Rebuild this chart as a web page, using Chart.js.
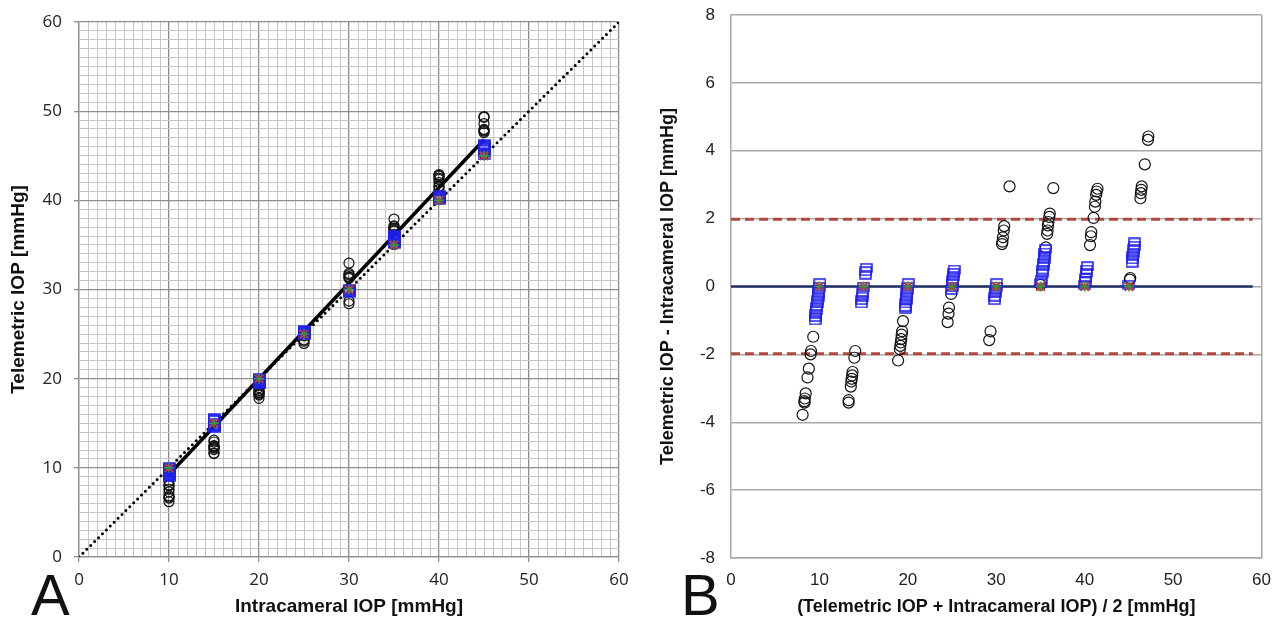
<!DOCTYPE html>
<html>
<head>
<meta charset="utf-8">
<script src="https://cdn.jsdelivr.net/npm/chart.js@4/dist/chart.umd.min.js"></script>
<style>
    body { margin: 0; background: #fff; width: 1283px; height: 622px; position: relative; overflow: hidden; }
    canvas { position: absolute; top: 0; }
    .letra { position: absolute; font-family: "Liberation Sans", Arial, sans-serif; font-size: 58px; line-height: 58px; color: #111; }
</style>
</head>
<body>
<canvas id="graficoA" width="640" height="622" style="left:0"></canvas>
<canvas id="graficoB" width="643" height="622" style="left:640px"></canvas>
<div class="letra" style="left:31px;top:566px">A</div>
<div class="letra" style="left:681px;top:566px">B</div>
<script>
// Niveis de pressao intracameral usados no teste
const niveis = [10, 15, 20, 25, 30, 35, 40, 45];

// Painel A: intracameral (x) x telemetrica (y)
const circulosA = [
    [10, 8.5], [10, 8.1], [10, 8.0], [10, 7.6], [10, 7.3], [10, 6.85], [10, 6.7], [10, 6.6], [10, 6.2],
    [15, 13.1], [15, 12.9], [15, 12.5], [15, 12.4], [15, 12.3], [15, 12.2], [15, 12.05], [15, 11.65], [15, 11.6],
    [20, 19.0], [20, 18.7], [20, 18.6], [20, 18.45], [20, 18.35], [20, 18.25], [20, 18.15], [20, 17.8],
    [25, 24.8], [25, 24.35], [25, 24.2], [25, 23.95],
    [30, 28.7], [30, 28.4], [30, 31.25], [30, 31.35], [30, 31.45], [30, 31.65], [30, 31.8], [30, 32.95],
    [35, 35.05], [35, 36.15], [35, 36.55], [35, 36.65], [35, 36.8], [35, 36.9], [35, 37.05], [35, 37.15], [35, 37.9],
    [40, 41.2], [40, 41.5], [40, 41.6], [40, 42.0], [40, 42.35], [40, 42.5], [40, 42.7], [40, 42.8], [40, 42.9],
    [45, 45.2], [45, 45.25], [45, 47.6], [45, 47.75], [45, 47.85], [45, 47.95], [45, 48.6], [45, 49.3], [45, 49.4]
];
const quadradosA = [
    [10, 10.1], [10, 10.0], [10, 9.9], [10, 9.8], [10, 9.7], [10, 9.6], [10, 9.5], [10, 9.4], [10, 9.3], [10, 9.2], [10, 9.1], [10, 9.0],
    [15, 15.55], [15, 15.45], [15, 15.35], [15, 15.0], [15, 14.8], [15, 14.7], [15, 14.6], [15, 14.5],
    [20, 20.1], [20, 20.0], [20, 19.9], [20, 19.8], [20, 19.7], [20, 19.6], [20, 19.5], [20, 19.4], [20, 19.35],
    [25, 25.5], [25, 25.4], [25, 25.3], [25, 25.2], [25, 25.1], [25, 25.0], [25, 24.9],
    [30, 30.1], [30, 30.0], [30, 29.9], [30, 29.8], [30, 29.7], [30, 29.6],
    [35, 35.1], [35, 35.2], [35, 35.4], [35, 35.5], [35, 35.6], [35, 35.7], [35, 35.8], [35, 35.9], [35, 36.0], [35, 36.1],
    [40, 40.05], [40, 40.15], [40, 40.25], [40, 40.4], [40, 40.5], [40, 40.6],
    [45, 45.05], [45, 45.7], [45, 45.8], [45, 45.9], [45, 46.0], [45, 46.1], [45, 46.2], [45, 46.3]
];
const regressaoA = [[10, 9.26], [45, 46.8]];
const identidadeA = [[0, 0], [60, 60]];

// Painel B: Bland-Altman (media x diferenca)
const circulosB = [
    [9.3, -1.48], [9.05, -1.9], [9.0, -2.0], [8.8, -2.42], [8.65, -2.68], [8.45, -3.15], [8.35, -3.3], [8.3, -3.38], [8.32, -3.42], [8.1, -3.78],
    [14.05, -1.9], [13.95, -2.1], [13.75, -2.52], [13.7, -2.62], [13.65, -2.72], [13.6, -2.8], [13.55, -2.95], [13.3, -3.35], [13.3, -3.42],
    [19.45, -1.02], [19.35, -1.32], [19.3, -1.42], [19.25, -1.55], [19.2, -1.65], [19.15, -1.75], [19.1, -1.85], [18.9, -2.18],
    [24.9, -0.22], [24.65, -0.62], [24.6, -0.8], [24.5, -1.05],
    [29.35, -1.32], [29.2, -1.58], [30.65, 1.25], [30.7, 1.32], [30.75, 1.45], [30.85, 1.65], [30.9, 1.78], [31.5, 2.95],
    [35.0, 0.05], [35.6, 1.15], [35.75, 1.55], [35.8, 1.65], [35.85, 1.8], [35.9, 1.9], [36.0, 2.05], [36.05, 2.15], [36.45, 2.9],
    [40.6, 1.22], [40.7, 1.48], [40.75, 1.6], [41.0, 2.02], [41.15, 2.35], [41.2, 2.5], [41.3, 2.7], [41.35, 2.8], [41.45, 2.88],
    [45.1, 0.2], [45.15, 0.25], [46.3, 2.6], [46.35, 2.75], [46.4, 2.85], [46.45, 2.95], [46.8, 3.6], [47.15, 4.32], [47.2, 4.42]
];
const quadradosB = [
    [10.05, 0.1], [10.0, 0.0], [9.95, -0.1], [9.9, -0.2], [9.85, -0.3], [9.8, -0.4], [9.75, -0.5], [9.7, -0.6], [9.65, -0.7], [9.6, -0.8], [9.55, -0.9], [9.5, -1.0],
    [15.3, 0.55], [15.25, 0.45], [15.2, 0.35], [15.0, 0.0], [14.9, -0.2], [14.85, -0.3], [14.8, -0.4], [14.75, -0.5],
    [20.05, 0.1], [20.0, 0.0], [19.95, -0.1], [19.9, -0.2], [19.85, -0.3], [19.8, -0.4], [19.75, -0.5], [19.7, -0.6], [19.7, -0.65],
    [25.25, 0.5], [25.2, 0.4], [25.15, 0.3], [25.1, 0.2], [25.05, 0.1], [25.0, 0.0], [24.95, -0.1],
    [30.05, 0.1], [30.0, 0.0], [29.95, -0.1], [29.9, -0.2], [29.85, -0.3], [29.8, -0.4],
    [35.05, 0.1], [35.1, 0.2], [35.2, 0.4], [35.25, 0.5], [35.3, 0.6], [35.35, 0.7], [35.4, 0.8], [35.45, 0.9], [35.5, 1.0], [35.55, 1.1],
    [40.0, 0.05], [40.05, 0.15], [40.1, 0.25], [40.2, 0.4], [40.25, 0.5], [40.3, 0.6],
    [45.0, 0.05], [45.35, 0.7], [45.4, 0.8], [45.45, 0.9], [45.5, 1.0], [45.55, 1.1], [45.6, 1.2], [45.65, 1.3]
];
const mediaB = [[0, 0], [59, 0]];
const limiteSupB = [[0, 1.98], [59, 1.98]];
const limiteInfB = [[0, -1.98], [59, -1.98]];

const fonteTitulo = "'Liberation Sans', Arial, sans-serif";

// quadradinho azul (mais largo que alto)
function criarQuadrado() {
    const c = document.createElement('canvas');
    c.width = 13; c.height = 10;
    const g = c.getContext('2d');
    g.strokeStyle = '#1f1ff0';
    g.lineWidth = 1.5;
    g.strokeRect(1, 1, 11, 8);
    return c;
}
const quadrado = criarQuadrado();

function marcadores(lista) {
    return [
        { data: lista, pointStyle: 'cross', pointRadius: 5, borderColor: '#2f9a3c', borderWidth: 1.5 },
        { data: lista, pointStyle: 'crossRot', pointRadius: 6, borderColor: '#c23b2c', borderWidth: 2 }
    ];
}

// ---------- Painel A ----------
const cinzaMenor = '#c6c6c6', cinzaMaior = '#8e8e8e';
const ehMaior = ctx => ctx.tick && ctx.tick.value % 10 === 0;

function eixoA(titulo, extra) {
    return Object.assign({
        type: 'linear', min: 0, max: 60,
        ticks: {
            stepSize: 1, autoSkip: false, maxRotation: 0,
            callback: v => v % 10 === 0 ? v : '',
            font: { family: "'Open Sans', sans-serif", size: 17 }, color: '#222'
        },
        grid: {
            color: ctx => ehMaior(ctx) ? cinzaMaior : cinzaMenor,
            lineWidth: ctx => ehMaior(ctx) ? 1.3 : 1,
            tickColor: ctx => ehMaior(ctx) ? cinzaMaior : 'rgba(0,0,0,0)',
            tickLength: 5
        },
        border: { color: cinzaMaior, width: 1.3 },
        title: { display: true, text: titulo, color: '#111', font: { family: fonteTitulo, size: 19, weight: 'bold' } }
    }, extra);
}

const escalaX_A = eixoA('Intracameral IOP [mmHg]', { afterFit: s => { s.height = 65; } });
escalaX_A.ticks.padding = 8;
const escalaY_A = eixoA('Telemetric IOP [mmHg]', { afterFit: s => { s.width = 79; s.paddingTop = 10; s.paddingBottom = 10; } });
escalaY_A.ticks.padding = 12;
escalaY_A.title.padding = { top: 7, bottom: 4 };

new Chart(document.getElementById('graficoA'), {
    type: 'scatter',
    data: {
        datasets: [
            ...marcadores(niveis.map(n => [n, n])),
            { data: quadradosA, pointStyle: quadrado, pointRadius: 5 },
            { data: circulosA, pointStyle: 'circle', pointRadius: 5, borderColor: '#111', borderWidth: 1.2, backgroundColor: 'rgba(0,0,0,0)' },
            { data: regressaoA, showLine: true, pointRadius: 0, borderColor: '#000', borderWidth: 3.5 },
            { data: identidadeA, showLine: true, pointRadius: 0, borderColor: '#000', borderWidth: 3, borderDash: [0, 5.5], borderCapStyle: 'round' }
        ]
    },
    options: {
        responsive: false, animation: false,
        layout: { padding: { top: 22, right: 21, left: 0, bottom: 0 } },
        plugins: { legend: { display: false }, tooltip: { enabled: false } },
        scales: { x: escalaX_A, y: escalaY_A }
    }
});

// ---------- Painel B ----------
const cinzaB = '#a8a8a8';
new Chart(document.getElementById('graficoB'), {
    type: 'scatter',
    data: {
        datasets: [
            ...marcadores(niveis.map(n => [n, 0])),
            { data: quadradosB, pointStyle: quadrado, pointRadius: 5 },
            { data: circulosB, pointStyle: 'circle', pointRadius: 5.5, borderColor: '#111', borderWidth: 1.2, backgroundColor: 'rgba(0,0,0,0)' },
            { data: mediaB, showLine: true, pointRadius: 0, borderColor: '#1f2d66', borderWidth: 2.5 },
            { data: limiteSupB, showLine: true, pointRadius: 0, borderColor: '#b04a40', borderWidth: 3, borderDash: [9, 5] },
            { data: limiteInfB, showLine: true, pointRadius: 0, borderColor: '#b04a40', borderWidth: 3, borderDash: [9, 5] }
        ]
    },
    options: {
        responsive: false, animation: false,
        layout: { padding: { top: 15, right: 13, left: 0, bottom: 0 } },
        plugins: { legend: { display: false }, tooltip: { enabled: false } },
        scales: {
            x: {
                type: 'linear', min: 0, max: 60,
                afterFit: s => { s.height = 64; },
                ticks: { stepSize: 10, maxRotation: 0, padding: 12, font: { family: fonteTitulo, size: 17 }, color: '#222' },
                grid: { drawTicks: false, color: ctx => ctx.tick && ctx.tick.value === 60 ? cinzaB : 'rgba(0,0,0,0)', lineWidth: 1.5 },
                border: { color: cinzaB, width: 1.5 },
                title: { display: true, text: '(Telemetric IOP + Intracameral IOP) / 2 [mmHg]', color: '#111', font: { family: fonteTitulo, size: 18, weight: 'bold' } }
            },
            y: {
                type: 'linear', min: -8, max: 8,
                afterFit: s => { s.width = 91; s.paddingTop = 10; s.paddingBottom = 10; },
                ticks: { stepSize: 2, padding: 16, font: { family: fonteTitulo, size: 17 }, color: '#222' },
                grid: { drawTicks: false, color: cinzaB, lineWidth: 1.5 },
                border: { color: cinzaB, width: 1.5 },
                title: { display: true, text: 'Telemetric IOP - Intracameral IOP [mmHg]', color: '#111', padding: { top: 17, bottom: 4 }, font: { family: fonteTitulo, size: 18, weight: 'bold' } }
            }
        }
    }
});
</script>
</body>
</html>
